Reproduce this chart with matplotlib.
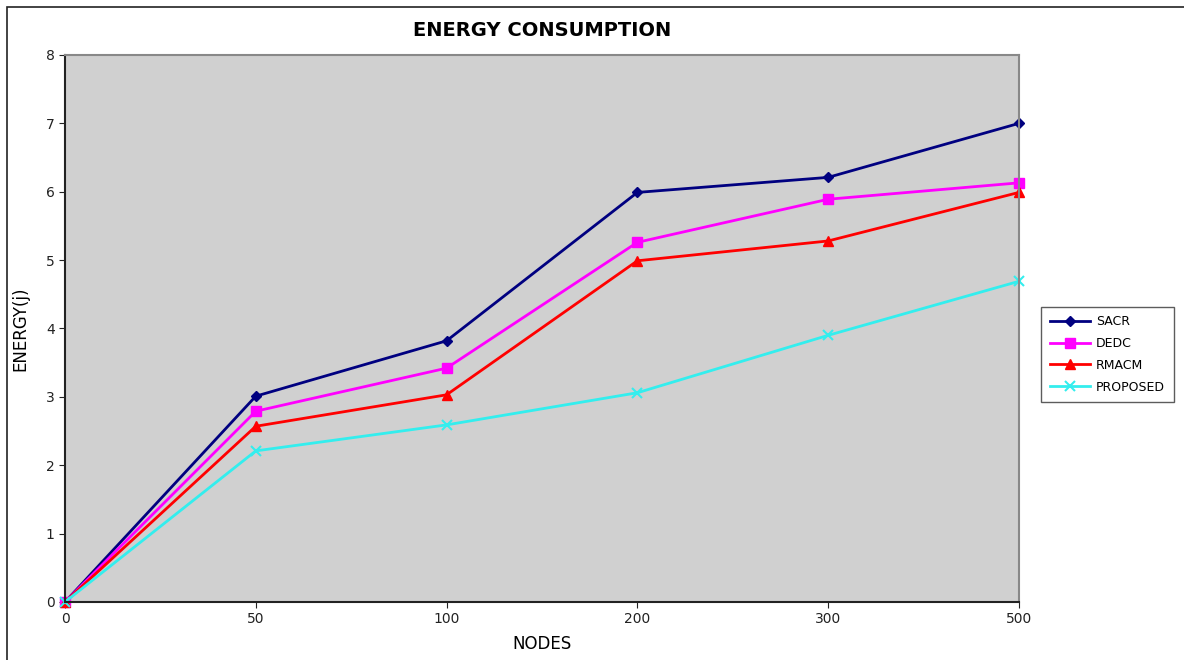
import matplotlib.pyplot as plt
from matplotlib.patches import Rectangle

# node counts (plotted as evenly spaced categories)
nodes = ['0', '50', '100', '200', '300', '500']

sacr = [0, 3.01, 3.82, 5.99, 6.21, 7.0]
dedc = [0, 2.79, 3.42, 5.26, 5.89, 6.13]
rmacm = [0, 2.57, 3.03, 4.99, 5.28, 5.99]
proposed = [0, 2.21, 2.59, 3.06, 3.90, 4.69]

fig = plt.figure(figsize=(11.84, 6.6), dpi=100)
ax = fig.add_axes([0.0549, 0.0879, 0.8057, 0.8288])
ax.set_facecolor('#d0d0d0')

x = range(len(nodes))
ax.plot(x, sacr, color='#000080', marker='D', markersize=5, lw=2, label='SACR', clip_on=False)
ax.plot(x, dedc, color='#ff00ff', marker='s', markersize=7, lw=2, label='DEDC', clip_on=False)
ax.plot(x, rmacm, color='#ff0000', marker='^', markersize=7, lw=2, label='RMACM', clip_on=False)
ax.plot(x, proposed, color='#33eeee', marker='x', markersize=7, mew=1.5, lw=2,
        label='PROPOSED', clip_on=False)

ax.set_xlim(0, len(nodes) - 1)
ax.set_ylim(0, 8)
ax.set_xticks(list(x))
ax.set_xticklabels(nodes)
ax.set_yticks(range(0, 9))
ax.tick_params(labelsize=10, length=4, colors='#222222')

for side in ['top', 'right']:
    ax.spines[side].set_color('#888888')
for side in ['left', 'bottom']:
    ax.spines[side].set_color('#222222')
for s in ax.spines.values():
    s.set_linewidth(1.5)

ax.set_title('ENERGY CONSUMPTION', fontsize=14, fontweight='bold', pad=14)
ax.set_xlabel('NODES', fontsize=12, labelpad=6)
ax.set_ylabel('ENERGY(j)', fontsize=12, labelpad=12)

leg = ax.legend(loc='upper left', bbox_to_anchor=(1.023, 0.54), frameon=True,
                fancybox=False, fontsize=9, handlelength=3.2, handletextpad=0.5,
                borderpad=0.7, labelspacing=0.7, borderaxespad=0)
leg.get_frame().set_edgecolor('#333333')
leg.get_frame().set_linewidth(1)

# outer border of the figure
fig.patches.append(Rectangle((0.006, -0.01), 1.1, 1.0, transform=fig.transFigure,
                             fill=False, edgecolor='#222222', lw=1.2))

plt.savefig('out.png', dpi=100)
plt.close()
